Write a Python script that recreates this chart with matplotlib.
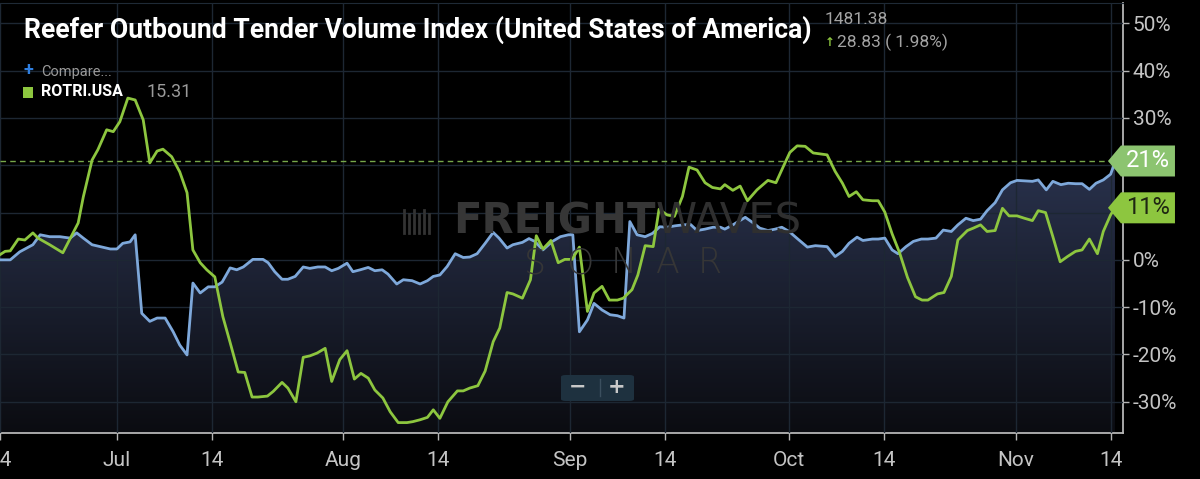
import numpy as np
import matplotlib.pyplot as plt
from matplotlib import font_manager
from matplotlib.patches import Polygon, Rectangle, FancyBboxPatch
from matplotlib.colors import LinearSegmentedColormap
from matplotlib.lines import Line2D

# ---- data ----
start = np.datetime64('2020-06-15T00:00')

# days after Jun 15, and % change values
blue_days = [0.0, 1.4, 2.7, 4.5, 5.5, 6.8, 8.2, 9.6, 10.5, 11.4, 12.6, 13.7, 15.1, 16.0, 16.8, 17.8,
             18.5, 19.4, 20.5, 21.5, 22.6, 23.7, 24.6, 25.6, 26.4, 27.4, 28.5, 29.4, 30.4, 31.5,
             32.4, 33.3, 34.6, 36.0, 36.7, 37.6, 38.6, 39.4, 40.4, 41.5, 42.4, 43.5, 44.5, 45.4,
             46.3, 47.5, 48.3, 49.3, 50.4, 51.3, 52.3, 53.1, 54.3, 55.2, 56.4, 57.5, 58.5, 59.3,
             60.2, 61.2, 62.3, 63.4, 64.3, 65.3, 66.4, 67.5, 68.3, 69.4, 70.2, 71.5, 72.4, 73.2,
             74.3, 75.6, 76.7, 77.8, 78.4, 79.3, 80.4, 81.3, 82.4, 83.5, 84.5, 85.4, 86.2, 87.2,
             88.3, 89.3, 90.3, 91.3, 92.4, 93.5, 94.5, 95.4, 96.5, 97.6, 98.6, 99.2, 100.3, 102.0,
             103.1, 104.0, 105.1, 106.1, 107.0, 108.0, 109.2, 110.5, 111.6, 113.2, 114.3, 115.3,
             116.2, 117.3, 118.1, 119.4, 120.2, 121.1, 122.1, 122.9, 124.0, 125.0, 126.1, 127.0,
             128.1, 129.1, 130.2, 131.1, 132.2, 133.2, 134.2, 135.1, 136.2, 137.2, 138.3, 139.2,
             140.3, 141.3, 142.1, 143.2, 144.1, 145.2, 146.2, 147.2, 148.1, 149.1, 150.0, 151.0,
             152.0, 152.6]
blue_vals = [0.0, 0.0, 1.7, 3.2, 5.3, 4.9, 4.9, 4.6, 5.7, 4.6, 3.2, 2.8, 2.3, 2.3, 3.5, 3.8,
             5.3, -11.3, -13.0, -12.3, -12.3, -15.2, -18.0, -20.1, -4.9, -7.0, -5.7, -5.7, -4.7, -1.7,
             -2.1, -1.5, 0.1, 0.1, -0.6, -2.5, -4.1, -4.1, -3.5, -1.5, -1.8, -1.5, -1.5, -2.3,
             -1.8, -0.7, -2.5, -2.1, -1.6, -2.3, -2.1, -3.0, -5.1, -4.2, -4.4, -5.1, -4.4, -3.5,
             -3.2, -1.4, 1.3, 0.5, 0.6, 1.3, 3.5, 5.8, 4.6, 2.5, 3.2, 3.7, 4.5, 3.9,
             2.1, 3.9, 4.9, 5.3, 5.3, -15.2, -12.7, -9.2, -10.6, -11.6, -11.8, -12.3, 8.1, 5.3,
             4.9, 5.6, 7.0, 6.9, 7.2, 7.4, 7.5, 6.2, 6.5, 6.9, 6.9, 6.5, 7.4, 9.0,
             7.8, 6.7, 6.2, 6.5, 6.9, 6.0, 4.4, 2.7, 3.0, 2.8, 0.7, 1.8,
             3.5, 4.8, 4.1, 4.4, 4.4, 4.6, 2.1, 1.3, 2.8, 3.9, 4.4, 4.4,
             4.6, 6.3, 6.0, 7.4, 8.8, 8.3, 8.6, 10.4, 12.1, 14.8, 16.3, 16.8,
             16.7, 16.6, 16.9, 14.8, 16.6, 15.9, 16.2, 16.1, 16.1, 14.9, 16.2, 16.9,
             18.1, 20.6]

green_days = [0.0, 0.7, 1.4, 2.5, 3.4, 4.5, 5.2, 6.8, 8.6, 10.7, 11.4, 12.6, 13.4, 14.6, 15.5,
              16.4, 17.5, 18.5, 19.6, 20.5, 21.5, 22.3, 23.5, 24.6, 25.6, 26.4, 27.4, 28.3, 29.4,
              30.5, 31.5, 32.6, 33.5, 34.5, 35.3, 36.6, 37.4, 38.6, 39.4, 40.5, 41.5, 42.4, 43.4,
              44.5, 45.4, 46.5, 47.5, 48.5, 49.4, 50.4, 51.3, 52.4, 53.4, 54.5, 55.7, 56.5, 57.5,
              58.5, 59.3, 60.2, 61.3, 62.6, 63.4, 64.3, 65.4, 66.4, 67.5, 68.4, 69.4, 70.2, 71.5,
              72.6, 73.4, 74.3, 75.4, 76.4, 77.3, 78.3, 79.3, 80.4, 81.3, 82.4, 83.4, 84.5, 85.3,
              86.5, 87.3, 88.3, 89.4, 90.2, 91.3, 92.3, 93.4, 94.3, 95.4, 96.5, 97.5, 98.6, 99.2,
              100.3, 101.3, 102.3, 103.6, 105.1, 106.2, 107.2, 108.1, 109.1, 110.2, 111.3, 112.3,
              113.2, 114.3, 115.3, 116.2, 117.2, 118.1, 119.4, 120.2, 121.1, 122.1, 123.1, 124.2,
              125.3, 126.2, 127.0, 128.3, 129.2, 130.2, 131.1, 132.4, 133.2, 134.2, 135.1, 136.2,
              137.2, 138.1, 139.2, 140.2, 141.3, 142.1, 143.1, 144.1, 145.1, 146.1, 147.2, 148.1,
              149.1, 150.2, 151.0, 152.0, 152.6]
green_vals = [1.1, 1.8, 1.9, 4.4, 4.2, 5.7, 4.6, 3.2, 1.5, 7.8, 13.3, 21.1, 23.3, 27.5, 27.1,
              29.2, 34.2, 33.8, 29.6, 20.5, 23.0, 23.4, 21.8, 18.6, 14.2, 2.1, -0.6, -2.1, -3.6,
              -12.0, -17.5, -23.7, -23.8, -29.0, -29.0, -28.8, -27.8, -25.9, -27.1, -30.0, -20.6, -20.3, -19.7,
              -18.7, -25.7, -21.1, -19.2, -25.2, -24.0, -25.0, -27.5, -29.2, -32.1, -34.4, -34.4, -34.2, -33.8,
              -33.3, -31.7, -33.5, -30.0, -27.7, -27.7, -27.1, -26.6, -23.5, -17.3, -14.4, -6.9, -7.2, -8.1,
              -4.2, 5.1, 2.3, 4.1, -0.6, 0.1, 0.1, 2.7, -10.9, -7.0, -5.6, -8.5, -8.5, -8.1,
              -6.3, -3.2, 3.0, 2.8, 10.7, 9.5, 9.2, 13.4, 19.6, 19.0, 16.3, 15.3, 15.0, 15.9,
              14.7, 15.6, 12.5, 14.8, 16.8, 16.3, 19.7, 22.7, 24.1, 24.0, 22.6, 22.4,
              22.2, 18.7, 16.2, 13.4, 14.4, 12.7, 12.5, 12.5, 10.1, 5.5, 1.6, -3.7,
              -7.8, -8.5, -8.5, -7.2, -6.9, -3.5, 4.2, 6.2, 6.7, 7.4, 6.0, 6.2,
              10.9, 9.3, 9.3, 8.8, 8.3, 10.4, 10.0, 4.9, -0.4, 0.7, 1.8, 2.1,
              4.4, 1.3, 6.0, 9.5, 11.0]

tick_dates = ['2020-06-15', '2020-07-01', '2020-07-14', '2020-08-01', '2020-08-14', '2020-09-01',
              '2020-09-14', '2020-10-01', '2020-10-14', '2020-11-01', '2020-11-14']
tick_labels = ['14', 'Jul', '14', 'Aug', '14', 'Sep', '14', 'Oct', '14', 'Nov', '14']
y_ticks = [-30, -20, -10, 0, 10, 20, 30, 40, 50]
y_hidden = [10, 20]  # covered by the value tags in the reference

title = 'Reefer Outbound Tender Volume Index (United States of America)'
index_value = '1481.38'
index_change = '28.83 ( 1.98%)'
series_name = 'ROTRI.USA'
series_value = '15.31'
ref_level = 21
blue_tag = '21%'
green_tag = '11%'

# ---- style ----
BG = '#000000'
GRID = '#1d2733'
BLUE = '#7ea8da'
GREEN = '#8dc63f'
TXT = '#c4c4c4'

names = {f.name for f in font_manager.fontManager.ttflist}
NARROW = 'Liberation Sans Narrow' if 'Liberation Sans Narrow' in names else 'Roboto'
plt.rcParams['font.family'] = ['Roboto', 'DejaVu Sans']

W, H = 1200, 479
fig = plt.figure(figsize=(W / 100, H / 100), dpi=100, facecolor=BG)


def fx(px):
    return px / W


def fy(py):
    return 1 - py / H


ax = fig.add_axes([0, fy(433), fx(1123), (433 - 3) / H])
ax.set_facecolor(BG)

bd = start + (np.array(blue_days) * 1440).round().astype('timedelta64[m]')
gd = start + (np.array(green_days) * 1440).round().astype('timedelta64[m]')
xmin = start
xmax = start + np.timedelta64(int(153.7 * 1440), 'm')
ymin, ymax = -36.6, 54.3

# gradient area under the blue line
fill = ax.fill_between(bd, blue_vals, ymin, color='none', lw=0, zorder=1)
cmap = LinearSegmentedColormap.from_list('area', ['#0b0c11', '#2b3450'])
grad = np.linspace(0, 1, 256).reshape(-1, 1)
im = ax.imshow(grad, cmap=cmap, origin='lower', aspect='auto', zorder=1,
               extent=[bd[0], bd[-1], ymin, 24], interpolation='bicubic')
im.set_clip_path(fill.get_paths()[0], transform=ax.transData)

ax.axhline(ref_level, color='#77a84a', lw=1, ls=(0, (4, 3)), zorder=2.6)
ax.plot(bd, blue_vals, color=BLUE, lw=2.0, zorder=3, solid_joinstyle='round')
ax.plot(gd, green_vals, color=GREEN, lw=2.0, zorder=3.1, solid_joinstyle='round')

ax.set_xlim(xmin, xmax)
ax.set_ylim(ymin, ymax)

ax.set_xticks(np.array(tick_dates, dtype='datetime64[m]'))
ax.set_xticklabels(tick_labels)
ax.set_yticks(y_ticks)
ax.set_yticklabels(['' if v in y_hidden else f'{v}%' for v in y_ticks])
ax.yaxis.tick_right()
ax.grid(True, color=GRID, lw=1)
ax.set_axisbelow(False)
for gl in ax.get_xgridlines() + ax.get_ygridlines():
    gl.set_zorder(2)

ax.tick_params(axis='x', colors='#b5b5b5', labelcolor=TXT, length=5, width=1, pad=8)
ax.tick_params(axis='y', colors='#b5b5b5', labelcolor=TXT, length=4, width=1, pad=3)
for lab in ax.get_xticklabels() + ax.get_yticklabels():
    lab.set_fontfamily(NARROW)
    lab.set_fontsize(15)

ax.spines['left'].set_visible(False)
ax.spines['top'].set_color('#1f2a36')
ax.spines['bottom'].set_color('#b5b5b5')
ax.spines['right'].set_color('#b5b5b5')
ax.spines['bottom'].set_linewidth(1.3)
ax.spines['right'].set_linewidth(1.3)


# ---- value tags at the right ----
def tag(date, val, text, face, tcolor):
    x, y = ax.transData.transform((ax.xaxis.convert_units(date), val))
    x -= 7
    pts = [(x, y), (x + 13, y + 15.5), (x + 67, y + 15.5), (x + 67, y - 15.5), (x + 13, y - 15.5)]
    fig.patches.append(Polygon(pts, closed=True, transform=None, facecolor=face,
                               edgecolor='none', zorder=5, figure=fig))
    fig.text((x + 40) / W, y / H, text, color=tcolor, fontsize=17, ha='center', va='center',
             family=NARROW, zorder=6)


tag(bd[-1], blue_vals[-1] + 0.3, blue_tag, '#8cc470', '#ffffff')
tag(gd[-1], green_vals[-1], green_tag, GREEN, '#1e2612')

# ---- header text ----
fig.text(fx(24), fy(30), title, color='white', fontsize=19.1, fontweight='bold',
         family=NARROW, va='center', ha='left')
fig.text(fx(825), fy(20), index_value, color='#a3a3a3', fontsize=12.5, va='center', ha='left')
fig.text(fx(825), fy(42), '\u2191', color=GREEN, fontsize=8.5, fontweight='bold',
         va='center', ha='left', family='DejaVu Sans')
fig.text(fx(837), fy(42), index_change, color='#a3a3a3', fontsize=12.5, va='center', ha='left')

fig.text(fx(23), fy(70), '+', color='#2f7fe0', fontsize=13, fontweight='bold',
         va='center', ha='left')
fig.text(fx(41), fy(72), 'Compare...', color='#9a9a9a', fontsize=10.5, va='center', ha='left')
fig.patches.append(Rectangle((fx(23), fy(98)), fx(10), 11 / H, transform=fig.transFigure,
                             facecolor=GREEN, edgecolor='none', figure=fig))
fig.text(fx(41), fy(92), series_name, color='white', fontsize=11.5, fontweight='bold',
         va='center', ha='left')
fig.text(fx(147), fy(92), series_value, color='#9a9a9a', fontsize=13, va='center', ha='left')

# ---- watermark ----
fig.text(fx(656), fy(221), 'FREIGHT', color='#363636', fontsize=30, fontweight='heavy',
         family='DejaVu Sans', va='center', ha='right', zorder=2.5)
fig.text(fx(656), fy(221), 'WAVES', color='#2f2f2f', fontsize=30, fontweight='normal',
         family='DejaVu Sans', va='center', ha='left', zorder=2.5)
for letter, px in zip('SONAR', [535, 580, 624, 668, 710]):
    fig.text(fx(px), fy(263), letter, color='#363636', fontsize=25, fontweight='light',
             family='DejaVu Sans', va='center', ha='center', zorder=2.5)
for i, px in enumerate([404, 409, 414, 419, 424, 429]):
    fig.add_artist(Line2D([fx(px), fx(px)], [fy(233), fy(210 + (i % 2) * 4)], color='#333333',
                          lw=2, transform=fig.transFigure))

# ---- zoom buttons ----
fig.patches.append(FancyBboxPatch((fx(561), fy(401)), fx(73), 26 / H,
                                  boxstyle='round,pad=0,rounding_size=0.004',
                                  transform=fig.transFigure, facecolor='#1e313f',
                                  edgecolor='none', figure=fig, zorder=6))
fig.add_artist(Line2D([fx(600), fx(600)], [fy(396), fy(379)], color='#3b4f5e', lw=1,
                      transform=fig.transFigure, zorder=7))
fig.text(fx(578), fy(387), '\u2212', color='#c8c8c8', fontsize=15, fontweight='bold',
         va='center', ha='center', family='DejaVu Sans', zorder=7)
fig.text(fx(617), fy(387), '+', color='#c8c8c8', fontsize=15, fontweight='bold',
         va='center', ha='center', family='DejaVu Sans', zorder=7)

fig.savefig('out.png', dpi=100, facecolor=BG)
